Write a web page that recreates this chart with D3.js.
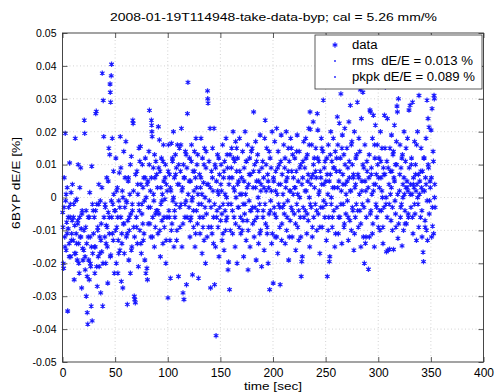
<!DOCTYPE html>
<html>
<head>
<meta charset="utf-8">
<script src="https://cdn.jsdelivr.net/npm/d3@7"></script>
<style>
  body { margin: 0; background: #fff; }
  text { font-family: "Liberation Sans", Arial, Helvetica, sans-serif; fill: #000; }
</style>
</head>
<body>
<div id="chart"></div>
<script>
// samples as [time in sec, dE/E in units of 1e-4 %]
const samples0 = [
  [0.2,-45],[0.7,-200],[1.1,-215],[1.6,60],[2.1,-120],[2.6,195],[3.0,-10],[3.5,-160],[4.0,-75],[4.5,30],
  [4.9,-345],[5.4,-95],[5.9,-30],[6.3,-140],[6.8,105],[7.3,-60],[7.8,-180],[8.2,15],[8.7,-110],[9.2,-70],
  [10.2,-130],[10.7,-20],[11.1,-250],[11.6,-85],[12.1,180],[12.6,-170],[13.0,-110],[13.5,-5],[14.0,-190],[14.5,-70],
  [14.9,100],[15.4,-140],[15.9,-230],[16.3,-60],[16.8,-120],[17.3,90],[17.8,-95],[18.2,-275],[18.7,-40],[19.2,-155],
  [20.2,-160],[20.7,235],[21.1,195],[21.6,-220],[22.1,-90],[22.6,-300],[23.0,-140],[23.5,-350],[24.0,-385],[24.5,-60],
  [24.9,-190],[25.4,-250],[25.9,15],[26.3,-120],[26.8,-210],[27.3,-330],[27.8,95],[28.2,-375],[28.7,-170],[29.2,-40],
  [30.2,-60],[30.7,-230],[31.1,-150],[31.6,255],[32.1,262],[32.6,-20],[33.0,-270],[33.5,-100],[34.0,-180],[34.5,40],
  [34.9,-210],[35.4,-120],[35.9,-10],[36.3,-290],[36.8,-80],[37.3,-165],[37.8,378],[38.2,-330],[38.7,295],[39.2,185],
  [40.2,-120],[40.7,-30],[41.1,-200],[41.6,-85],[42.1,60],[42.6,-150],[43.0,-260],[43.5,-45],[44.0,150],[44.5,-110],
  [44.9,130],[45.2,345],[45.4,320],[45.7,290],[45.9,-175],[46.3,370],[46.6,405],[46.8,-60],[47.3,180],[47.8,-20],
  [48.2,-130],[48.7,10],[49.2,-230],
  [50.2,-40],[50.7,120],[51.1,-200],[51.6,-90],[52.1,30],[52.6,-230],[53.0,-130],[53.5,-10],[54.0,75],[54.5,-160],
  [54.9,185],[55.4,-60],[55.9,-255],[56.3,-110],[56.8,20],[57.3,-275],[57.8,-80],[58.2,140],[58.7,-170],[59.2,-30]
];
const samples1 = [
  [60.2,170],[60.7,-120],[61.1,-15],[61.6,-325],[62.1,-70],[62.6,60],[63.0,-190],[63.5,-100],[64.0,10],[64.5,-230],
  [64.9,-50],[65.4,125],[65.9,-150],[66.3,-20],[66.8,235],[67.1,225],[67.6,-90],[68.2,-300],[68.7,-310],[69.2,-320],
  [70.2,-60],[70.7,80],[71.1,-140],[71.6,10],[72.1,-210],[72.6,150],[73.0,-40],[73.5,-100],[74.0,155],[74.5,40],
  [74.9,-170],[75.4,-20],[75.9,100],[76.3,-80],[76.8,-130],[77.3,60],[77.8,-10],[78.2,-190],[78.7,120],[79.2,-230],
  [80.2,-215],[80.7,-250],[81.1,50],[81.6,-30],[82.1,140],[82.6,265],[83.0,-80],[83.5,20],[84.0,-120],[84.5,235],
  [84.7,220],[84.9,200],[85.2,185],[85.7,-60],[86.3,90],[86.8,-10],[87.3,-150],[87.8,60],[88.2,-90],[88.7,110],[89.2,-40],
  [90.2,30],[90.7,-110],[91.1,215],[91.6,-50],[92.1,175],[92.6,80],[93.0,-180],[93.5,-20],[94.0,120],[94.5,-70],
  [94.9,10],[95.4,-140],[95.9,160],[96.3,50],[96.8,-90],[97.3,-5],[97.8,100],[98.2,-200],[98.7,40],[99.2,-60],
  [100.2,-305],[100.7,160],[101.1,-40],[101.6,70],[102.1,-130],[102.6,-245],[103.0,20],[103.5,165],[104.0,-80],[104.5,110],
  [104.9,-10],[105.4,200],[105.9,-150],[106.3,60],[106.8,-60],[107.3,130],[107.8,-20],[108.2,90],[108.7,-100],[109.2,160],
  [110.2,-240],[110.7,40],[111.1,150],[111.6,-90],[112.1,80],[112.6,-20],[113.0,210],[113.5,-150],[114.0,30],[114.5,-290],
  [114.9,100],[115.4,-310],[115.9,60],[116.3,-60],[116.8,140],[117.3,-10],[117.8,-265],[118.2,90],[118.7,255],[119.2,350]
];
const samples2 = [
  [120.2,-30],[120.7,120],[121.1,-120],[121.6,50],[122.1,-60],[122.6,160],[123.0,-10],[123.5,-235],[124.0,80],[124.5,-90],
  [124.9,20],[125.4,140],[125.9,-150],[126.3,60],[126.8,180],[127.3,-40],[127.8,100],[128.2,-80],[128.7,10],[129.2,-245],
  [130.2,70],[130.7,-110],[131.1,30],[131.6,180],[132.1,-20],[132.6,-170],[133.0,120],[133.5,-60],[134.0,45],[134.5,-130],
  [134.9,150],[135.4,0],[135.9,-200],[136.3,90],[136.8,-50],[137.3,40],[137.8,324],[138.0,300],[138.3,287],[138.8,-90],[139.2,110],
  [140.2,210],[140.7,-275],[141.1,-30],[141.6,80],[142.1,-110],[142.6,150],[143.0,20],[143.5,-60],[144.0,210],[144.5,-265],
  [144.9,100],[145.4,-150],[145.9,-420],[146.3,50],[146.8,-40],[147.3,130],[147.8,-90],[148.2,10],[148.7,-180],[149.2,70],
  [150.2,-70],[150.7,100],[151.1,20],[151.6,-130],[152.1,160],[152.6,-20],[153.0,60],[153.5,-160],[154.0,110],[154.5,-40],
  [154.9,-100],[155.4,180],[155.9,0],[156.3,-60],[156.8,90],[157.3,-220],[157.8,-196],[158.2,40],[158.7,-280],[159.2,130],
  [160.2,-20],[160.7,150],[161.1,60],[161.6,-110],[162.1,200],[162.6,30],[163.0,-60],[163.5,110],[164.0,-150],[164.5,170],
  [164.9,0],[165.4,80],[165.9,-200],[166.3,120],[166.8,-30],[167.3,50],[167.8,-90],[168.2,180],[168.7,10],[169.2,-60],
  [170.2,60],[170.7,-100],[171.1,140],[171.6,-20],[172.1,-180],[172.6,90],[173.0,-50],[173.5,200],[174.0,10],[174.5,-130],
  [174.9,110],[175.4,-70],[175.9,160],[176.3,-220],[176.8,40],[177.3,-10],[177.8,120],[178.2,-150],[178.7,70],[179.2,-40]
];
const samples3 = [
  [180.2,150],[180.7,-80],[181.1,30],[181.6,260],[182.1,-120],[182.6,100],[183.0,-30],[183.5,170],[184.0,-190],[184.5,50],
  [184.9,-60],[185.4,130],[185.9,0],[186.3,-140],[186.8,80],[187.3,-20],[187.8,190],[188.2,-100],[188.7,40],[189.2,-210],
  [190.2,110],[190.7,-40],[191.1,60],[191.6,-160],[192.1,180],[192.6,235],[193.0,-80],[193.5,20],[194.0,150],[194.5,-110],
  [194.9,70],[195.4,-200],[195.9,30],[196.3,-50],[196.8,-280],[197.3,120],[197.8,-10],[198.2,90],[198.7,-140],[199.2,200],
  [200.2,-260],[200.7,50],[201.1,-30],[201.6,170],[202.1,-120],[202.6,80],[203.0,-60],[203.5,210],[204.0,10],[204.5,-170],
  [204.9,140],[205.4,-20],[205.9,100],[206.3,-90],[206.8,-265],[207.3,40],[207.8,190],[208.2,-130],[208.7,70],[209.2,-30],
  [210.2,160],[210.7,-50],[211.1,90],[211.6,-140],[212.1,30],[212.6,200],[213.0,-100],[213.5,60],[214.0,-10],[214.5,150],
  [214.9,-190],[215.4,110],[215.9,20],[216.3,-70],[216.8,180],[217.3,-30],[217.8,80],[218.2,-120],[218.7,130],[219.2,10],
  [220.2,-50],[220.7,120],[221.1,30],[221.6,-160],[222.1,80],[222.6,-20],[223.0,190],[223.5,-90],[224.0,50],[224.5,-130],
  [224.9,140],[225.4,0],[225.9,-60],[226.3,100],[226.8,-240],[227.3,-195],[227.8,-180],[228.2,60],[228.7,-30],[229.2,170],
  [230.2,90],[230.7,-40],[231.1,180],[231.6,20],[232.1,-110],[232.6,130],[233.0,50],[233.5,-70],[234.0,210],[234.5,0],
  [234.9,-150],[235.2,260],[235.4,207],[235.9,40],[236.3,-30],[236.8,160],[237.3,-120],[237.8,70],[238.2,230],[238.7,-60],[239.2,120]
];
const samples4 = [
  [240.2,-20],[240.7,150],[241.1,60],[241.6,-100],[242.1,255],[242.6,205],[243.0,-50],[243.5,110],[244.0,20],[244.5,-170],
  [244.9,80],[245.4,-30],[245.9,180],[246.3,40],[246.8,-90],[247.3,140],[247.8,296],[248.2,-10],[248.7,90],[249.2,-60],
  [250.2,50],[250.7,-130],[251.1,120],[251.6,-240],[252.1,10],[252.6,160],[253.0,-60],[253.5,-195],[254.0,-180],[254.5,70],
  [254.9,200],[255.4,-20],[255.9,110],[256.3,-90],[256.8,30],[257.3,180],[257.8,-40],[258.2,90],[258.7,-150],[259.2,140],
  [260.2,80],[260.7,-30],[261.1,245],[261.6,160],[262.1,-110],[262.6,50],[263.0,226],[263.5,-60],[264.0,120],[264.5,315],
  [264.9,20],[265.4,-140],[265.9,190],[266.3,70],[266.8,-20],[267.3,130],[267.8,-80],[268.2,210],[268.7,40],[269.2,-50],
  [270.2,150],[270.7,-10],[271.1,90],[271.6,-130],[272.1,230],[272.6,60],[273.0,-70],[273.5,280],[274.0,20],[274.5,-100],
  [274.9,170],[275.4,100],[275.9,-40],[276.3,60],[276.8,-160],[277.3,200],[277.8,30],[278.2,-60],[278.7,120],[279.2,-20],
  [280.2,290],[280.7,70],[281.1,-90],[281.6,180],[282.1,10],[282.6,-40],[283.0,327],[283.5,-150],[284.0,240],[284.5,50],
  [284.9,-20],[285.4,320],[285.9,-120],[286.3,90],[286.8,-200],[287.3,160],[287.8,-139],[288.2,20],[288.7,-60],[289.2,110],
  [290.2,-10],[290.7,-218],[291.1,60],[291.6,-120],[292.1,266],[292.6,260],[293.0,-40],[293.5,90],[294.0,10],[294.5,180],
  [294.9,-80],[295.4,250],[295.9,40],[296.3,-150],[296.8,120],[297.3,220],[297.8,-20],[298.2,70],[298.7,-60],[299.2,160]
];
const samples5 = [
  [300.2,-90],[300.7,120],[301.1,30],[301.6,-100],[302.1,200],[302.6,60],[303.0,-40],[303.5,150],[304.0,0],[304.5,-140],
  [304.9,90],[305.4,-30],[305.9,250],[306.3,70],[306.8,336],[307.3,-20],[307.8,-165],[308.2,110],[308.7,240],[309.2,-160],
  [310.2,40],[310.7,-157],[311.1,150],[311.6,10],[312.1,-70],[312.6,190],[313.0,80],[313.5,-30],[314.0,130],[314.5,-158],
  [314.9,60],[315.4,220],[315.9,-10],[316.3,100],[316.8,-90],[317.3,170],[317.8,278],[318.2,260],[318.7,-124],[319.2,300],
  [320.2,20],[320.7,160],[321.1,-60],[321.6,90],[322.1,-20],[322.6,-147],[323.0,130],[323.5,40],[324.0,-100],[324.5,200],
  [324.9,10],[325.4,-40],[325.9,110],[326.3,30],[326.8,-80],[327.3,50],[327.8,180],[328.2,20],[328.7,-60],[329.2,266],
  [330.2,280],[330.7,40],[331.1,-30],[331.6,120],[332.1,10],[332.6,290],[333.0,-110],[333.5,60],[334.0,30],[334.5,170],
  [334.9,-50],[335.4,100],[335.9,20],[336.3,-130],[336.8,40],[337.3,200],[337.8,-20],[338.2,70],[338.7,310],[339.2,10],
  [340.2,-60],[340.7,150],[341.1,30],[341.6,-120],[342.1,80],[342.6,-166],[343.0,-195],[343.5,120],[344.0,20],[344.5,-90],
  [344.9,60],[345.4,180],[345.9,-99],[346.3,296],[346.8,-130],[347.3,240],[347.8,90],[348.2,214],[348.7,-10],[349.2,50],
  [350.2,205],[350.7,-120],[351.1,270],[351.6,-87],[352.1,140],[352.6,-110],[353.0,310],[353.3,300],[353.7,40],[354.0,-30]
];
// second pass of readings between the ones above (dense core of the cloud)
const samples6 = [
  [0.45,-90],[1.45,-30],[2.45,-150],[3.45,10],[4.45,-110],[5.45,-60],[6.45,-180],[7.45,-20],[8.45,-130],[9.45,40],
  [10.45,-60],[11.45,-170],[12.45,-10],[13.45,-140],[14.45,-80],[15.45,-200],[16.45,30],[17.45,-120],[18.45,-50],[19.45,-190],
  [20.45,-100],[21.45,-180],[22.45,-40],[23.45,-240],[24.45,-120],[25.45,-60],[26.45,-200],[27.45,-150],[28.45,-20],[29.45,-110],
  [30.45,-150],[31.45,-40],[32.45,-210],[33.45,-90],[34.45,-20],[35.45,-170],[36.45,-130],[37.45,30],[38.45,-200],[39.45,-60],
  [40.45,-20],[41.45,-140],[42.45,-90],[43.45,50],[44.45,-60],[45.45,-180],[46.45,-10],[47.45,-110],[48.45,80],[49.45,-40],
  [50.45,-100],[51.45,20],[52.45,-60],[53.45,-170],[54.45,-30],[55.45,90],[56.45,-140],[57.45,0],[58.45,-80],[59.45,60],
  [60.45,-10],[61.45,-110],[62.45,50],[63.45,-60],[64.45,100],[65.45,-160],[66.45,-40],[67.45,20],[68.45,-120],[69.45,70],
  [70.45,-90],[71.45,40],[72.45,-20],[73.45,110],[74.45,-140],[75.45,-50],[76.45,30],[77.45,-110],[78.45,60],[79.45,0],
  [80.45,40],[81.45,-80],[82.45,100],[83.45,-30],[84.45,60],[85.45,-120],[86.45,10],[87.45,130],[88.45,-50],[89.45,70],
  [90.45,-40],[91.45,90],[92.45,-100],[93.45,30],[94.45,-10],[95.45,110],[96.45,-60],[97.45,60],[98.45,-130],[99.45,20],
  [100.45,80],[101.45,-60],[102.45,30],[103.45,-100],[104.45,120],[105.45,0],[106.45,-40],[107.45,70],[108.45,-130],[109.45,40],
  [110.45,100],[111.45,-30],[112.45,160],[113.45,20],[114.45,-80],[115.45,60],[116.45,-20],[117.45,130],[118.45,-60],[119.45,10],
  [120.45,50],[121.45,-70],[122.45,110],[123.45,0],[124.45,-40],[125.45,80],[126.45,-110],[127.45,30],[128.45,130],[129.45,-20],
  [130.45,-60],[131.45,60],[132.45,10],[133.45,-90],[134.45,100],[135.45,-30],[136.45,140],[137.45,-120],[138.45,40],[139.45,-10],
  [140.45,30],[141.45,-90],[142.45,60],[143.45,-140],[144.45,-20],[145.45,90],[146.45,-60],[147.45,20],[148.45,120],[149.45,-30],
  [150.45,40],[151.45,-50],[152.45,-110],[153.45,80],[154.45,10],[155.45,-70],[156.45,130],[157.45,-20],[158.45,60],[159.45,-100],
  [160.45,90],[161.45,-40],[162.45,120],[163.45,20],[164.45,-80],[165.45,150],[166.45,40],[167.45,-30],[168.45,80],[169.45,-110],
  [170.45,10],[171.45,-70],[172.45,50],[173.45,-20],[174.45,110],[175.45,30],[176.45,-100],[177.45,70],[178.45,-40],[179.45,140],
  [180.45,-30],[181.45,80],[182.45,-70],[183.45,30],[184.45,110],[185.45,-40],[186.45,50],[187.45,-110],[188.45,20],[189.45,90],
  [190.45,-60],[191.45,30],[192.45,-20],[193.45,100],[194.45,-90],[195.45,50],[196.45,140],[197.45,-40],[198.45,20],[199.45,-110],
  [200.45,60],[201.45,-50],[202.45,20],[203.45,-120],[204.45,90],[205.45,40],[206.45,-30],[207.45,110],[208.45,-80],[209.45,10],
  [210.45,-20],[211.45,120],[212.45,50],[213.45,-60],[214.45,80],[215.45,-120],[216.45,20],[217.45,150],[218.45,-40],[219.45,60],
  [220.45,30],[221.45,-80],[222.45,140],[223.45,10],[224.45,-40],[225.45,90],[226.45,-120],[227.45,40],[228.45,110],[229.45,-60],
  [230.45,20],[231.45,120],[232.45,-50],[233.45,70],[234.45,160],[235.45,-20],[236.45,60],[237.45,-90],[238.45,100],[239.45,30],
  [240.45,80],[241.45,-40],[242.45,120],[243.45,10],[244.45,-90],[245.45,60],[246.45,150],[247.45,-30],[248.45,40],[249.45,110],
  [250.45,-20],[251.45,70],[252.45,-100],[253.45,50],[254.45,130],[255.45,0],[256.45,-60],[257.45,90],[258.45,30],[259.45,-110],
  [260.45,120],[261.45,30],[262.45,-60],[263.45,80],[264.45,-20],[265.45,150],[266.45,40],[267.45,-90],[268.45,100],[269.45,10],
  [270.45,50],[271.45,-60],[272.45,110],[273.45,20],[274.45,160],[275.45,-30],[276.45,70],[277.45,-110],[278.45,40],[279.45,130],
  [280.45,-40],[281.45,60],[282.45,140],[283.45,-80],[284.45,20],[285.45,100],[286.45,-30],[287.45,50],[288.45,-120],[289.45,80],
  [290.45,30],[291.45,130],[292.45,-50],[293.45,70],[294.45,-110],[295.45,20],[296.45,160],[297.45,40],[298.45,-30],[299.45,100],
  [300.45,60],[301.45,-40],[302.45,110],[303.45,20],[304.45,-90],[305.45,70],[306.45,150],[307.45,0],[308.45,-60],[309.45,90],
  [310.45,-20],[311.45,80],[312.45,30],[313.45,-100],[314.45,140],[315.45,50],[316.45,-50],[317.45,100],[318.45,10],[319.45,-80],
  [320.45,70],[321.45,-30],[322.45,120],[323.45,0],[324.45,60],[325.45,-80],[326.45,150],[327.45,30],[328.45,-50],[329.45,90],
  [330.45,10],[331.45,100],[332.45,-60],[333.45,40],[334.45,-20],[335.45,70],[336.45,160],[337.45,0],[338.45,-90],[339.45,50],
  [340.45,80],[341.45,-40],[342.45,20],[343.45,120],[344.45,-70],[345.45,40],[346.45,-10],[347.45,100],[348.45,-50],[349.45,30],
  [350.45,60],[351.45,-30],[352.45,110],[353.45,0]
];

const xTicks = [0, 50, 100, 150, 200, 250, 300, 350, 400];
const yTicks = [-0.05, -0.04, -0.03, -0.02, -0.01, 0, 0.01, 0.02, 0.03, 0.04, 0.05];
const yTickLabels = ["-0.05", "-0.04", "-0.03", "-0.02", "-0.01", "0", "0.01", "0.02", "0.03", "0.04", "0.05"];
const legendLabels = ["data", "rms  dE/E = 0.013 %", "pkpk dE/E = 0.089 %"];
const legendWidths = [25.5, 121, 123];
const titleText = "2008-01-19T114948-take-data-byp; cal = 5.26 mm/%";

const width = 496, height = 392;
const margin = { top: 33, right: 12.5, bottom: 30, left: 62.5 };
const innerW = width - margin.left - margin.right;
const innerH = height - margin.top - margin.bottom;
const blue = "#1818ff";

const data = samples0.concat(samples1, samples2, samples3, samples4, samples5, samples6)
  .map(d => ({ t: d[0], v: d[1] / 10000 }));

const svg = d3.select("#chart").append("svg")
  .attr("width", width)
  .attr("height", height);

// slight softening so the markers look like the printed ones
svg.append("defs").append("filter").attr("id", "soft")
  .append("feGaussianBlur").attr("stdDeviation", 0.45);

const g = svg.append("g")
  .attr("transform", `translate(${margin.left},${margin.top})`);

const x = d3.scaleLinear().domain([0, 400]).range([0, innerW]);
const y = d3.scaleLinear().domain([-0.05, 0.05]).range([innerH, 0]);

// dotted grid
g.append("g").selectAll("line").data(xTicks.slice(1, -1)).join("line")
  .attr("x1", d => x(d)).attr("x2", d => x(d))
  .attr("y1", 0).attr("y2", innerH)
  .attr("stroke", "#c8c8c8").attr("stroke-width", 0.8).attr("stroke-dasharray", "1,2.5");
g.append("g").selectAll("line").data(yTicks.slice(1, -1)).join("line")
  .attr("x1", 0).attr("x2", innerW)
  .attr("y1", d => y(d)).attr("y2", d => y(d))
  .attr("stroke", "#c8c8c8").attr("stroke-width", 0.8).attr("stroke-dasharray", "1,2.5");

// data points (asterisks)
const star = d3.symbol().type(d3.symbolAsterisk).size(20);
const pts = g.append("g").attr("filter", "url(#soft)")
  .selectAll("g").data(data).join("g")
  .attr("transform", d => `translate(${x(d.t)},${y(d.v)})`);
pts.append("path")
  .attr("d", star)
  .attr("fill", "none")
  .attr("stroke", blue)
  .attr("stroke-opacity", 0.9)
  .attr("stroke-width", 1.25);
pts.append("circle").attr("r", 1.2).attr("fill", blue);

// axes with inward ticks on all four sides
const tickLen = 5;
g.append("g").attr("transform", `translate(0,${innerH})`)
  .call(d3.axisBottom(x).tickValues(xTicks).tickSize(-tickLen).tickPadding(6).tickFormat(d3.format("d")))
  .call(a => a.select(".domain").remove())
  .call(a => a.selectAll("text").style("font-size", "12px"));
g.append("g")
  .call(d3.axisTop(x).tickValues(xTicks).tickSize(-tickLen).tickFormat(""))
  .call(a => a.select(".domain").remove());
g.append("g")
  .call(d3.axisLeft(y).tickValues(yTicks).tickSize(-tickLen).tickPadding(6)
    .tickFormat((d, i) => yTickLabels[i]))
  .call(a => a.select(".domain").remove())
  .call(a => a.selectAll("text").style("font-size", "10.5px"));
g.append("g").attr("transform", `translate(${innerW},0)`)
  .call(d3.axisRight(y).tickValues(yTicks).tickSize(-tickLen).tickFormat(""))
  .call(a => a.select(".domain").remove());

g.selectAll(".tick line").attr("stroke", "#333").attr("stroke-width", 0.8);
g.selectAll(".tick text").attr("fill", "#000");

g.append("rect")
  .attr("width", innerW).attr("height", innerH)
  .attr("fill", "none").attr("stroke", "#333").attr("stroke-width", 0.9);

// title and axis labels
svg.append("text")
  .attr("x", 110).attr("y", 21)
  .attr("textLength", 327).attr("lengthAdjust", "spacingAndGlyphs")
  .style("font-size", "11px")
  .text(titleText);
svg.append("text")
  .attr("x", 244).attr("y", 390)
  .attr("textLength", 58).attr("lengthAdjust", "spacingAndGlyphs")
  .style("font-size", "11px")
  .text("time [sec]");
svg.append("text")
  .attr("transform", "translate(20,229) rotate(-90)")
  .attr("textLength", 92).attr("lengthAdjust", "spacingAndGlyphs")
  .style("font-size", "11px")
  .text("6BYP dE/E [%]");

// legend
const lg = svg.append("g").attr("transform", "translate(315,35)");
lg.append("rect")
  .attr("width", 167).attr("height", 54)
  .attr("fill", "#fff").attr("stroke", "#333").attr("stroke-width", 0.8);
legendLabels.forEach((label, i) => {
  const cy = 10 + i * 16;
  if (i === 0) {
    lg.append("path").attr("transform", `translate(20,${cy})`).attr("d", star)
      .attr("fill", "none").attr("stroke", blue).attr("stroke-width", 1.2);
    lg.append("circle").attr("cx", 20).attr("cy", cy).attr("r", 1.1).attr("fill", blue);
  } else {
    lg.append("circle").attr("cx", 20).attr("cy", cy).attr("r", 0.9).attr("fill", blue);
  }
  lg.append("text").attr("x", 37).attr("y", cy + 4)
    .attr("textLength", legendWidths[i]).attr("lengthAdjust", "spacingAndGlyphs")
    .style("font-size", "12px").style("white-space", "pre")
    .text(label);
});
</script>
</body>
</html>
